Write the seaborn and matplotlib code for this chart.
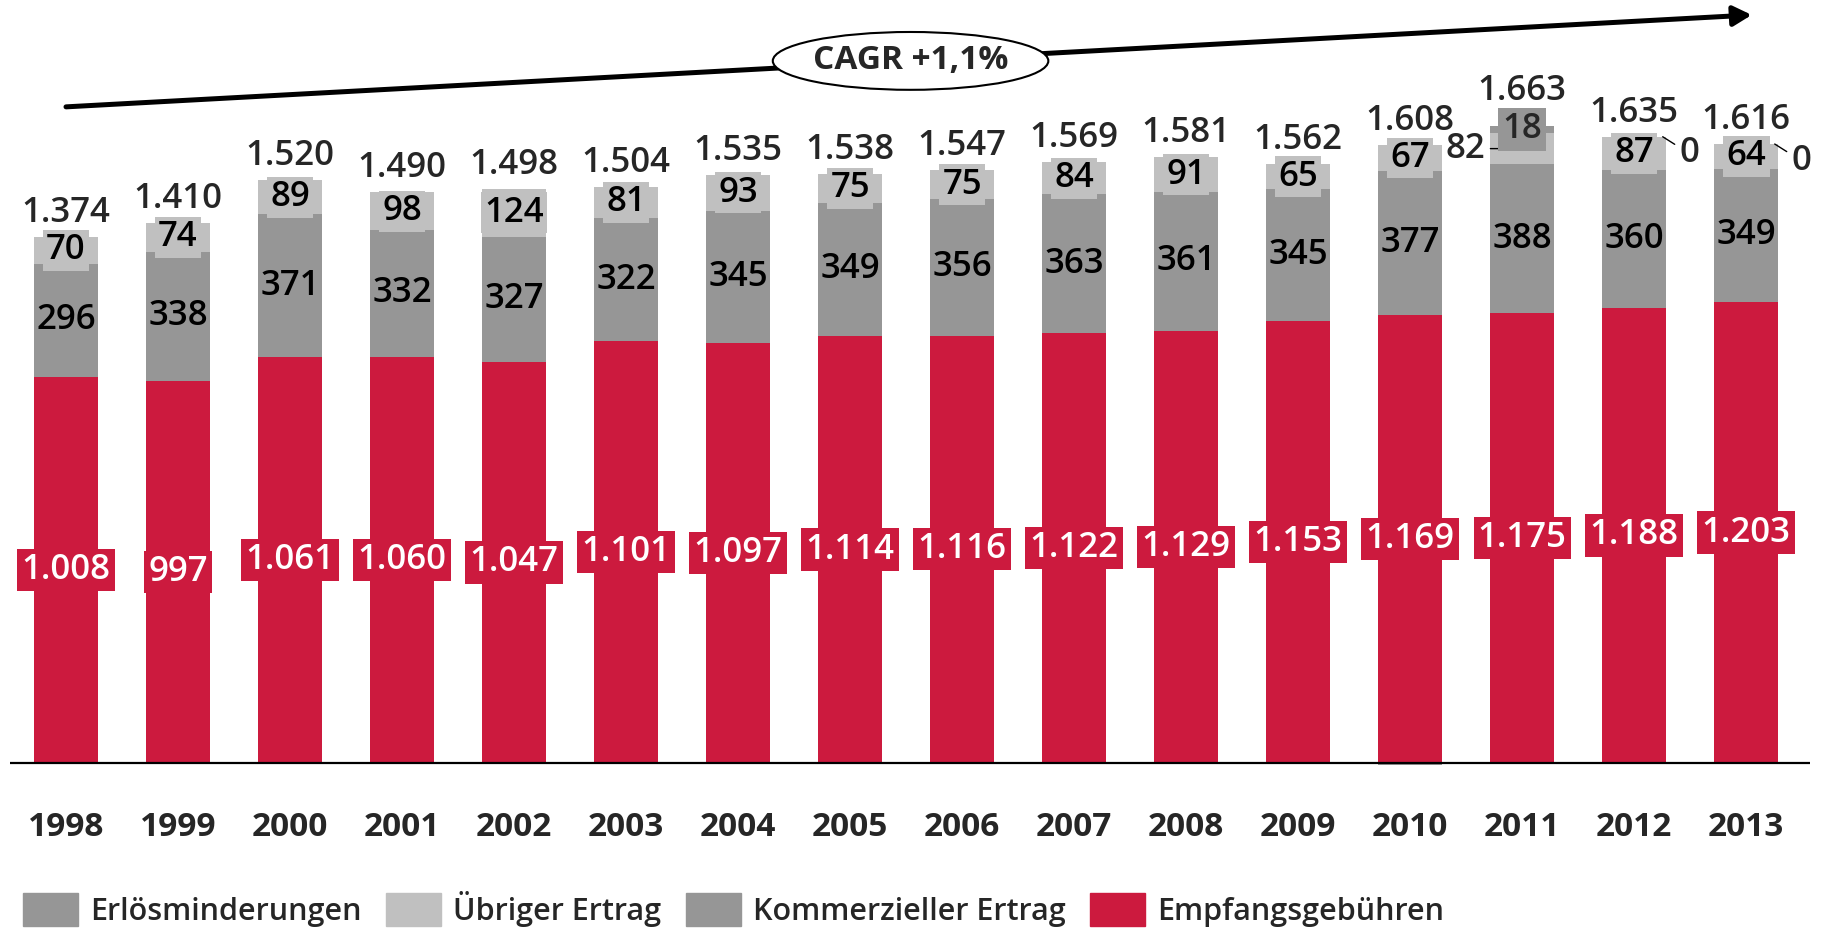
import numpy as np
import matplotlib
matplotlib.use("Agg")
import matplotlib.pyplot as plt
from matplotlib.patches import Ellipse, Patch
import seaborn as sns

sns.set_style("white")
plt.rcParams['font.family'] = ['Open Sans', 'DejaVu Sans']

# Werte in Mio. EUR
years = [str(y) for y in range(1998, 2014)]
empfang = [1008, 997, 1061, 1060, 1047, 1101, 1097, 1114, 1116, 1122, 1129, 1153, 1169, 1175, 1188, 1203]
kommerz = [296, 338, 371, 332, 327, 322, 345, 349, 356, 363, 361, 345, 377, 388, 360, 349]
uebrig = [70, 74, 89, 98, 124, 81, 93, 75, 75, 84, 91, 65, 67, 82, 87, 64]
erloes = [0, 0, 0, 0, 0, 0, 0, 0, 0, 0, 0, 0, -5, 18, 0, 0]
erloes_text = ["", "", "", "", "", "", "", "", "", "", "", "", "", "18", "0", "0"]
totals = [1374, 1410, 1520, 1490, 1498, 1504, 1535, 1538, 1547, 1569, 1581, 1562, 1608, 1663, 1635, 1616]
cagr_text = "CAGR +1,1%"

RED = "#CC1A3E"
GRAY = "#969696"
LIGHT = "#C0C0C0"
W = 0.57
FS = 25
FW = "semibold"


def de(v):
    return f"{v:,}".replace(",", ".")


e = np.array(empfang)
k = np.array(kommerz)
u = np.array(uebrig)
r = np.array(erloes)
top = e + k + u
b_r = np.where(r >= 0, top, 0)

fig = plt.figure(figsize=(18.25, 9.32), dpi=100)
ax = fig.add_axes([10 / 1825, 0.1567, 1800 / 1825, 0.8433])

bar_kw = dict(width=W, saturation=1, errorbar=None, linewidth=0, ax=ax)
sns.barplot(x=years, y=empfang, color=RED, **bar_kw)
sns.barplot(x=years, y=kommerz, bottom=e, color=GRAY, **bar_kw)
sns.barplot(x=years, y=uebrig, bottom=e + k, color=LIGHT, **bar_kw)
sns.barplot(x=years, y=erloes, bottom=b_r, color=GRAY, **bar_kw)

ax.axhline(0, color="black", lw=1.6, zorder=5)

txt = dict(fontsize=FS, fontweight=FW)
for i in range(len(years)):
    ax.text(i, e[i] / 2, de(e[i]), ha="center", va="center", color="white",
            bbox=dict(boxstyle="square,pad=0.12", fc=RED, ec="none"), **txt)
    ax.text(i, e[i] + k[i] / 2, de(k[i]), ha="center", va="center", color="black", **txt)
    uy = e[i] + k[i] + u[i] / 2
    if r[i] > 0:
        ax.annotate(de(u[i]), xy=(i - W / 2 + 0.08, uy), xytext=(-24, 0), textcoords="offset points",
                    ha="center", va="center",
                    arrowprops=dict(arrowstyle="-", lw=1, color="black", shrinkA=1, shrinkB=0), **txt)
    else:
        ax.text(i, uy, de(u[i]), ha="center", va="center", color="black",
                bbox=dict(boxstyle="square,pad=0.1", fc=LIGHT, ec="none"), **txt)
    if erloes_text[i]:
        if r[i] > 0:
            ax.text(i, top[i] + r[i] / 2, erloes_text[i], ha="center", va="center",
                    bbox=dict(boxstyle="square,pad=0.12", fc=GRAY, ec="none"), **txt)
        else:
            ax.annotate(erloes_text[i], xy=(i + W / 2 - 0.03, top[i]), xytext=(19, -12),
                        textcoords="offset points", ha="center", va="center",
                        arrowprops=dict(arrowstyle="-", lw=1, color="black", shrinkA=1, shrinkB=0), **txt)
    stack_top = max(top[i], top[i] + r[i])
    off = 13 if r[i] > 0 else 5
    ax.annotate(de(totals[i]), xy=(i, stack_top), xytext=(0, off), textcoords="offset points",
                ha="center", va="bottom", **txt)

# CAGR-Pfeil
ax.annotate("", xy=(15.05, 1953), xytext=(0, 1713),
            arrowprops=dict(arrowstyle="-|>,head_length=0.55,head_width=0.3", mutation_scale=20,
                            lw=3.6, color="black", shrinkA=0, shrinkB=0))
ax.add_patch(Ellipse((7.54, 1833), 2.46, 151, fc="white", ec="black", lw=1.5, zorder=6))
ax.text(7.54, 1833, cagr_text, ha="center", va="center", fontsize=24, fontweight="bold", zorder=7)

ax.set_xlim(-0.5, 15.57)
ax.set_ylim(-60, 1992)
ax.set_yticks([])
ax.set_xlabel("")
ax.set_ylabel("")
ax.tick_params(axis="x", length=0, pad=18, labelsize=24)
for t in ax.get_xticklabels():
    t.set_fontweight("bold")
for s in ax.spines.values():
    s.set_visible(False)

handles = [Patch(color=GRAY, label="Erlösminderungen"),
           Patch(color=LIGHT, label="Übriger Ertrag"),
           Patch(color=GRAY, label="Kommerzieller Ertrag"),
           Patch(color=RED, label="Empfangsgebühren")]
fig.legend(handles=handles, loc="lower left", bbox_to_anchor=(23 / 1825, 5 / 932), ncol=4,
           frameon=False, prop={"weight": "semibold", "size": 22}, handlelength=1.8,
           handleheight=1.3, handletextpad=0.4, columnspacing=0.8, borderpad=0, borderaxespad=0)

fig.savefig("out.png", dpi=100)
